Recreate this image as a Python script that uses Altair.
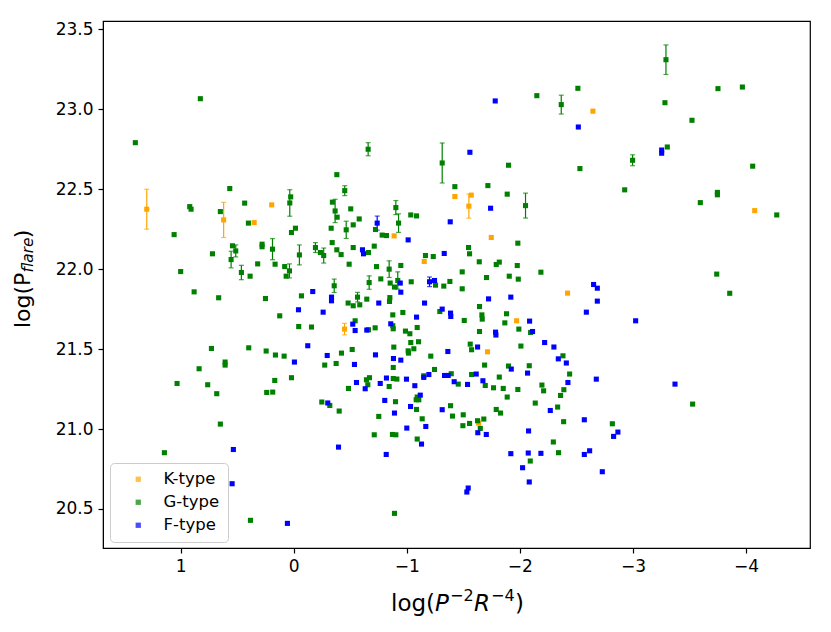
import altair as alt
import pandas as pd

# ---------------- data ----------------
# K-type
k_x = [1.30, 0.62, 0.195, 0.35, -0.888, -1.154, -0.449, -2.646, -1.425, -1.570,
       -1.549, -1.747, -2.422, -1.971, -1.714, -1.635, -4.077]
k_y = [22.375, 22.308, 22.402, 22.291, 22.208, 22.048, 21.625, 22.988, 22.454, 22.463,
       22.394, 22.198, 21.85, 21.677, 21.483, 21.037, 22.366]
k_err = [0.125, 0.11, 0, 0, 0, 0, 0.036, 0, 0, 0,
         0.075, 0, 0, 0, 0, 0, 0]

# G-type
g_x = [0.826, 1.401, 0.566, 0.434, 0.920, 0.908, 0.649, 0.401, 1.058, 0.542,
       0.513, 0.554, 0.28, 0.28, 0.188, 0.719, 0.319, 0.165, 1.0, 0.463,
       0.386, 0.881, 0.664, 0.25, 0.124, 0.728, 0.398, 0.244, 0.162, 0.607,
       0.607, 0.837, 1.032, 0.761, 0.168, 0.681, 0.239, 0.186, 0.649, 1.144,
       0.383, -0.658, -1.313, -0.381, -0.451, 0.027, 0.035, -0.342, -0.366, -0.384,
       -0.504, -0.903, -0.927, -1.035, -1.086, -0.579, -0.526, -0.331, -0.464, -0.723,
       -0.015, 0.02, -0.782, -0.82, -0.05, -0.192, -0.236, -0.265, -0.34, -0.381,
       -0.419, -0.526, -0.661, -0.712, -0.49, 0.08, 0.038, 0.067, -0.732, -0.844,
       -0.947, -1.165, -1.234, -0.77, -0.92, -0.853, -0.891, -1.039, -1.254, -1.327,
       -1.381, -0.358, -0.667, -0.068, -0.564, -0.646, -0.85, -0.481, -0.526, -0.584,
       -0.847, -1.292, -0.876, -0.965, -0.543, -0.876, -0.88, -0.044, -0.157, -0.661,
       -0.72, -1.092, -0.988, -1.027, -1.035, -1.104, -1.012, -1.015, -1.062, -0.517,
       -0.885, -1.212, 0.085, -0.422, -0.274, -0.375, -0.88, -1.245, -1.15, 0.02,
       -0.643, -0.67, -0.655, -0.88, -0.912, -0.844, -0.484, -1.092, -1.106, -1.083,
       -0.248, -0.319, -0.9, -1.086, -1.387, -0.402, -0.752, -1.136, -0.712, -0.873,
       -0.903, -1.092, -0.891, -2.513, -2.15, -2.366, -1.9, -2.531, -2.997, -2.927,
       -1.425, -1.717, -1.888, -2.05, -1.982, -1.546, -1.555, -1.641, -1.791, -1.818,
       -1.977, -1.49, -1.705, -1.906, -1.986, -2.186, -1.49, -1.643, -1.664, -1.667,
       -1.508, -1.882, -1.867, -1.991, -1.643, -2.095, -1.561, -1.573, -2.009, -2.381,
       -1.688, -1.9, -2.083, -2.44, -1.393, -1.455, -1.573, -1.694, -1.818, -1.767,
       -1.853, -1.982, -1.888, -2.195, -2.21, -2.389, -2.36, -2.136, -2.334, -1.404,
       -1.499, -1.496, -1.555, -1.626, -1.681, -1.65, -1.791, -1.829, -2.387, -2.818,
       -2.296, -2.342, -2.092, -3.292, -3.752, -3.968, -3.283, -3.522, -3.304, -4.059,
       -3.747, -3.747, -3.596, -4.272, -3.741, -3.856, -3.528]
g_y = [23.066, 22.791, 22.504, 22.413, 22.391, 22.375, 22.36, 22.288, 22.216, 22.146,
       22.114, 22.06, 22.156, 22.14, 22.125, 22.096, 22.033, 22.031, 21.985, 21.979,
       21.956, 21.858, 21.821, 21.816, 21.708, 21.504, 21.508, 21.488, 21.463, 21.419,
       21.40, 21.377, 21.285, 21.277, 21.304, 21.221, 21.229, 21.231, 21.031, 20.852,
       20.429, 22.75, 22.664, 22.591, 22.491, 22.452, 22.414, 22.419, 22.364, 22.325,
       22.377, 22.385, 22.288, 22.339, 22.333, 22.314, 22.277, 22.256, 22.246, 22.248,
       22.256, 22.229, 22.213, 22.21, 22.089, 22.135, 22.104, 22.085, 22.166, 22.121,
       22.091, 22.135, 22.104, 22.144, 22.031, 22.016, 21.989, 21.956, 22.016, 22.0,
       22.023, 22.085, 22.079, 21.939, 21.929, 21.913, 21.888, 21.921, 21.90, 21.894,
       21.923, 21.896, 21.916, 21.833, 21.825, 21.8125, 21.822, 21.788, 21.771, 21.777,
       21.798, 21.735, 21.714, 21.729, 21.677, 21.646, 21.627, 21.641, 21.638, 21.621,
       21.633, 21.635, 21.6125, 21.596, 21.541, 21.546, 21.489, 21.475, 21.502, 21.4975,
       21.5125, 21.456, 21.456, 21.475, 21.40, 21.41, 21.385, 21.3725, 21.333, 21.321,
       21.308, 21.321, 21.277, 21.316, 21.3125, 21.266, 21.254, 21.20, 21.183, 21.183,
       21.169, 21.1475, 21.171, 21.1225, 21.146, 21.1125, 21.079, 21.064, 20.964, 20.966,
       20.964, 20.9375, 20.4725, 23.131, 23.085, 23.029, 22.65, 22.629, 22.681, 22.496,
       22.516, 22.5225, 22.469, 22.3975, 22.1625, 22.135, 22.096, 22.046, 22.029, 22.044,
       22.0225, 21.983, 21.9475, 21.956, 21.9375, 21.981, 21.877, 21.766, 21.714, 21.6875,
       21.679, 21.721, 21.664, 21.625, 21.61, 21.604, 21.531, 21.496, 21.519, 21.458,
       21.40, 21.394, 21.396, 21.344, 21.346, 21.281, 21.341, 21.2725, 21.325, 21.258,
       21.254, 21.2475, 21.20, 21.275, 21.239, 21.246, 21.21, 21.1625, 21.1375, 21.081,
       21.089, 21.021, 21.035, 21.052, 21.0625, 21.004, 21.1225, 21.10, 21.046, 21.033,
       20.919, 20.852, 20.80, 23.31, 23.129, 23.139, 23.041, 22.931, 22.764, 22.644,
       22.48, 22.465, 22.416, 22.339, 21.969, 21.849, 21.156]
g_err = [0, 0, 0, 0, 0, 0, 0, 0, 0, 0,
         0.0375, 0.052, 0, 0, 0.066, 0, 0, 0, 0, 0.045,
         0, 0, 0, 0, 0, 0, 0, 0, 0, 0,
         0, 0, 0, 0, 0, 0, 0, 0, 0, 0,
         0, 0.041, 0.125, 0, 0.031, 0, 0.083, 0, 0.073, 0,
         0, 0.044, 0.058, 0, 0, 0, 0, 0, 0.054, 0,
         0, 0, 0, 0, 0.0625, 0.031, 0, 0.047, 0, 0,
         0, 0, 0, 0, 0, 0, 0.044, 0, 0, 0.052,
         0, 0, 0, 0, 0.054, 0, 0, 0, 0, 0,
         0, 0.042, 0.042, 0, 0.03, 0, 0, 0, 0, 0,
         0, 0, 0, 0, 0, 0, 0, 0, 0, 0,
         0, 0, 0, 0, 0, 0, 0, 0, 0, 0,
         0, 0, 0, 0, 0, 0, 0, 0, 0, 0,
         0, 0, 0, 0, 0, 0, 0, 0, 0, 0,
         0, 0, 0, 0, 0, 0, 0, 0, 0, 0,
         0, 0, 0, 0, 0, 0.059, 0, 0, 0.034, 0,
         0, 0, 0, 0.078, 0, 0, 0, 0, 0, 0,
         0, 0, 0, 0, 0, 0, 0, 0, 0, 0,
         0, 0, 0, 0, 0, 0, 0, 0, 0, 0,
         0, 0, 0, 0, 0, 0, 0, 0, 0, 0,
         0, 0, 0, 0, 0, 0, 0, 0, 0, 0,
         0, 0, 0, 0, 0, 0, 0, 0, 0, 0,
         0, 0, 0, 0.0925, 0, 0, 0, 0, 0, 0,
         0, 0, 0, 0, 0, 0, 0]

# F-type
f_x = [0.534, 0.545, 0.056, -0.738, -1.012, -1.384, -0.608, -0.617, -1.331, -0.942,
       -0.947, -1.201, -1.245, -0.168, -0.334, -0.334, -0.752, -1.157, -1.313, -1.387,
       -1.389, -0.042, -0.26, -1.086, -0.522, -0.858, -0.543, -0.646, -0.124, -1.363,
       -0.296, -0.723, -0.882, -0.947, -0.006, -0.537, -1.195, -1.15, -1.334, -1.366,
       -0.555, -0.632, -0.765, -0.82, -0.997, -1.071, -1.119, -0.301, -0.805, -1.033,
       -1.313, -0.891, -1.0, -1.168, -1.13, -0.396, -0.818, -1.782, -2.517, -1.558,
       -1.741, -2.652, -2.685, -1.723, -1.92, -2.685, -2.086, -2.112, -2.588, -1.785,
       -1.788, -2.219, -2.301, -1.626, -2.34, -2.411, -1.924, -2.068, -1.419, -1.537,
       -1.614, -1.673, -2.425, -2.676, -2.269, -2.57, -2.829, -2.867, -2.077, -1.628,
       -1.703, -1.92, -2.074, -2.186, -2.024, -2.57, -2.617, -2.729, -2.083, -1.543,
       -1.531, -3.024, -3.372, -3.254, -3.254]
f_y = [20.872, 20.658, 20.41, 22.288, 22.183, 22.296, 22.121, 22.096, 22.098, 21.913,
       21.856, 21.921, 21.929, 21.86, 21.825, 21.802, 21.788, 21.788, 21.75, 21.725,
       21.704, 21.746, 21.731, 21.70, 21.656, 21.658, 21.616, 21.619, 21.521, 21.485,
       21.46, 21.464, 21.441, 21.431, 21.419, 21.404, 21.341, 21.323, 21.335, 21.335,
       21.291, 21.252, 21.285, 21.319, 21.312, 21.271, 21.212, 21.163, 21.179, 21.141,
       21.121, 21.10, 21.006, 21.016, 20.906, 20.887, 20.841, 23.052, 22.889, 22.731,
       22.381, 21.904, 21.881, 21.814, 21.825, 21.80, 21.675, 21.61, 21.731, 21.606,
       21.588, 21.541, 21.513, 21.513, 21.439, 21.413, 21.375, 21.35, 21.296, 21.279,
       21.344, 21.302, 21.291, 21.312, 21.116, 21.058, 20.954, 20.981, 20.988, 20.977,
       20.966, 20.846, 20.85, 20.848, 20.758, 20.841, 20.864, 20.733, 20.669, 20.631,
       20.606, 21.677, 21.281, 22.725, 22.745]
f_err = [0, 0, 0, 0.044, 0, 0, 0, 0, 0, 0,
         0, 0.03, 0, 0, 0, 0, 0, 0, 0, 0,
         0, 0, 0, 0, 0, 0, 0, 0, 0, 0,
         0, 0, 0, 0, 0, 0, 0, 0, 0, 0,
         0, 0, 0, 0, 0, 0, 0, 0, 0, 0,
         0, 0, 0, 0, 0, 0, 0, 0, 0, 0,
         0, 0, 0, 0, 0, 0, 0, 0, 0, 0,
         0, 0, 0, 0, 0, 0, 0, 0, 0, 0,
         0, 0, 0, 0, 0, 0, 0, 0, 0, 0,
         0, 0, 0, 0, 0, 0, 0, 0, 0, 0,
         0, 0, 0, 0, 0]

types = ["K-type", "G-type", "F-type"]
colors = ["orange", "green", "blue"]
x_ticks = [1, 0, -1, -2, -3, -4]
y_ticks = [20.5, 21.0, 21.5, 22.0, 22.5, 23.0, 23.5]

# ---------------- table ----------------
frames = []
for name, col, xs, ys, es in [("K-type", "orange", k_x, k_y, k_err),
                              ("G-type", "green", g_x, g_y, g_err),
                              ("F-type", "blue", f_x, f_y, f_err)]:
    frames.append(pd.DataFrame({"x": xs, "y": ys, "err": es, "type": name, "ecolor": col}))
df = pd.concat(frames, ignore_index=True)
df["order"] = range(len(df))
eb = df[df["err"] > 0].copy()
eb["lo"] = eb["y"] - eb["err"]
eb["hi"] = eb["y"] + eb["err"]

FONT = "DejaVu Sans"
xscale = alt.Scale(domain=[-4.566, 1.687], reverse=True, nice=False, zero=False)
yscale = alt.Scale(domain=[20.256, 23.552], nice=False, zero=False)
xaxis = alt.Axis(values=x_ticks, title=None, format="d", grid=False)
yaxis = alt.Axis(values=y_ticks, title=None, format=".1f", grid=False)

rules = alt.Chart(eb).mark_rule(strokeWidth=1.2).encode(
    x=alt.X("x:Q", scale=xscale, axis=xaxis),
    y=alt.Y("lo:Q", scale=yscale, axis=yaxis),
    y2="hi:Q",
    color=alt.Color("ecolor:N", scale=None),
)
caps_lo = alt.Chart(eb).mark_tick(orient="horizontal", size=5, thickness=1.2).encode(
    x=alt.X("x:Q", scale=xscale), y=alt.Y("lo:Q", scale=yscale),
    color=alt.Color("ecolor:N", scale=None),
)
caps_hi = alt.Chart(eb).mark_tick(orient="horizontal", size=5, thickness=1.2).encode(
    x=alt.X("x:Q", scale=xscale), y=alt.Y("hi:Q", scale=yscale),
    color=alt.Color("ecolor:N", scale=None),
)

points = alt.Chart(df).mark_square(size=26, opacity=1).encode(
    x=alt.X("x:Q", scale=xscale, axis=xaxis),
    y=alt.Y("y:Q", scale=yscale, axis=yaxis),
    color=alt.Color("type:N", scale=alt.Scale(domain=types, range=colors),
                    legend=alt.Legend(orient="none", legendX=7, legendY=442, title=None,
                                      symbolType="square", symbolSize=28,
                                      symbolOpacity=1,
                                      labelFontSize=16.5, labelFont=FONT,
                                      labelExpr="datum.label + ' '",
                                      fillColor="white", strokeColor="#cccccc",
                                      cornerRadius=4, padding=8, rowPadding=6,
                                      symbolOffset=12, labelOffset=17,
                                      symbolStrokeWidth=0)),
    order="order:Q",
)

one = pd.DataFrame({"a": [0]})

def label(txt, x, y, size, angle=0, italic=False, baseline="alphabetic"):
    return alt.Chart(one).mark_text(
        text=txt, font=FONT, fontSize=size, align="left", baseline=baseline,
        angle=angle, fontStyle="italic" if italic else "normal", color="black",
    ).encode(x=alt.value(x), y=alt.value(y))

# x-axis title: log(P^{-2}R^{-4})
xt = [
    label("log(", 288, 590, 23),
    label("P", 332, 590, 23, italic=True),
    label("\u22122", 347, 580, 16),
    label("R", 371, 590, 23, italic=True),
    label("\u22124", 388, 580, 16),
    label(")", 412, 590, 23),
]
# y-axis title: log(P_flare)
yt = [
    label("log(P", -80, 307, 22, angle=270, baseline="middle"),
    label("flare", -75, 251.6, 15.4, angle=270, italic=True, baseline="middle"),
    label(")", -80, 217.2, 22, angle=270, baseline="middle"),
]

chart = alt.layer(rules, caps_lo, caps_hi, points, *xt, *yt).properties(
    width=707, height=527,
    padding={"left": 95, "top": 13, "right": 10, "bottom": 70},
    autosize=alt.AutoSizeParams(type="none"),
).configure_view(
    stroke="black", strokeWidth=1.2
).configure_axis(
    labelFont=FONT, labelFontSize=17, labelColor="black",
    domainColor="black", tickColor="black", tickSize=5, tickWidth=1.2,
    labelPadding=5,
)

chart.save("out.html", embed_options={"renderer": "svg", "actions": False})
